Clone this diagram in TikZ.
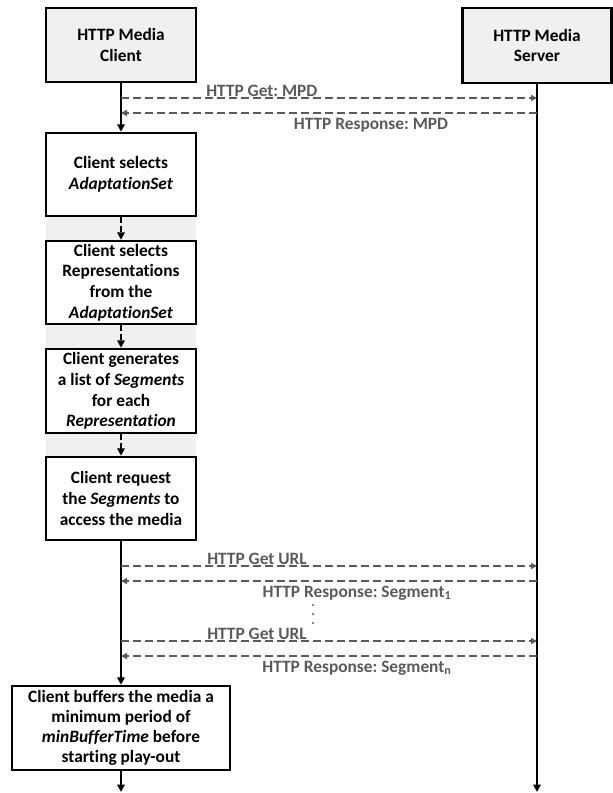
\documentclass[tikz,border=0pt]{standalone}
\usepackage{fontspec}
\setmainfont{Carlito}[Ligatures={NoCommon}]
\frenchspacing
\usetikzlibrary{arrows.meta}
\definecolor{boxfill}{HTML}{F0F0F0}
\definecolor{msggray}{HTML}{5A5A5A}
\begin{document}
\begin{tikzpicture}[x=0.75pt,y=-0.75pt,
  txt/.style={font=\fontsize{13}{15.5}\selectfont\bfseries},
  actor/.style={txt,draw=black,line width=1.9pt,fill=boxfill,align=center,
    minimum width=150*0.75pt,minimum height=74*0.75pt,inner sep=0pt},
  stepbox/.style={txt,draw=black,line width=1.9pt,fill=white,align=center,
    minimum width=150*0.75pt,minimum height=83*0.75pt,inner sep=0pt},
  band/.style={fill=boxfill,draw=none},
  life/.style={draw=black,line width=1.9pt},
  flow/.style={life,-{Triangle[length=5.5pt,width=5.5pt]}},
  handoff/.style={draw=black,line width=1.9pt,dash pattern=on 4.5pt off 2pt,
    -{Triangle[length=5.5pt,width=5.5pt]}},
  msg/.style={draw=msggray,line width=1.5pt,dash pattern=on 6pt off 3pt,
    -{Triangle[length=4.5pt,width=4.5pt]}},
  lbl/.style={txt,text=msggray,inner sep=0pt},
  dotmark/.style={circle,fill=msggray,draw=none,inner sep=0pt,minimum size=1.8pt}
]
\path[use as bounding box] (0,0) rectangle (613,793);

% separating bands between the client steps
\fill[band] (46,216) rectangle (196,241);
\fill[band] (46,324) rectangle (196,349);
\fill[band] (46,433) rectangle (196,457);

% actors
\node[actor] (client) at (121,45) {HTTP Media\\Client};
\node[actor,minimum width=149*0.75pt,minimum height=75*0.75pt] (server) at (537,45.5) {HTTP Media\\Server};

% client processing steps
\node[stepbox] (s1) at (121,174.5) {Client selects\\\textit{AdaptationSet}};
\node[stepbox] (s2) at (121,282.5) {Client selects\\Representations\\from the\\\textit{AdaptationSet}};
\node[stepbox,minimum height=84*0.75pt] (s3) at (121,391) {Client generates\\a list of \textit{Segments}\\for each\\\textit{Representation}};
\node[stepbox] (s4) at (121,498.5) {Client request\\the \textit{Segments} to\\access the media};
\node[stepbox,minimum width=218*0.75pt,minimum height=84*0.75pt,font=\fontsize{13}{15}\selectfont\bfseries] (s5) at (121,728) {Client buffers the media a\\minimum period of\\\textit{minBufferTime} before\\starting play-out};

% lifeline ends
\coordinate (cend) at (121,792);
\coordinate (send) at (537,792);

% client lifeline and step transitions
\draw[flow] (client) -- (s1);
\draw[handoff] (s1) -- (s2);
\draw[handoff] (s2) -- (s3);
\draw[handoff] (s3) -- (s4);
\draw[flow] (s4) -- (s5);
\draw[flow] (s5) -- (cend);

% server lifeline
\draw[flow] (server) -- (send);

% message anchor points on the lifelines
\coordinate (c1) at (121,98);  \coordinate (v1) at (537,98);
\coordinate (c2) at (121,113); \coordinate (v2) at (537,113);
\coordinate (c3) at (121,566); \coordinate (v3) at (537,566);
\coordinate (c4) at (121,581); \coordinate (v4) at (537,581);
\coordinate (c5) at (121,641); \coordinate (v5) at (537,641);
\coordinate (c6) at (121,656); \coordinate (v6) at (537,656);

% HTTP exchanges
\draw[msg] (c1) -- (v1);
\node[lbl,anchor=base west] (m1) at (206,96) {HTTP Get: MPD};
\draw[msg] (v2) -- (c2);
\node[lbl] (m2) at (371,125) {HTTP Response: MPD};

\draw[msg] (c3) -- (v3);
\node[lbl,anchor=base west] (m3) at (207,564) {HTTP Get URL};
\draw[msg] (v4) -- (c4);
\node[lbl] (m4) at (357,593) {HTTP Response: Segment\textsubscript{1}};

% vertical ellipsis between the segment requests
\node[dotmark] (d1) at (313,605) {};
\node[dotmark] (d2) at (313,614) {};
\node[dotmark] (d3) at (313,623) {};

\draw[msg] (c5) -- (v5);
\node[lbl,anchor=base west] (m5) at (207,639) {HTTP Get URL};
\draw[msg] (v6) -- (c6);
\node[lbl] (m6) at (357,668) {HTTP Response: Segment\textsubscript{n}};
\end{tikzpicture}
\end{document}
